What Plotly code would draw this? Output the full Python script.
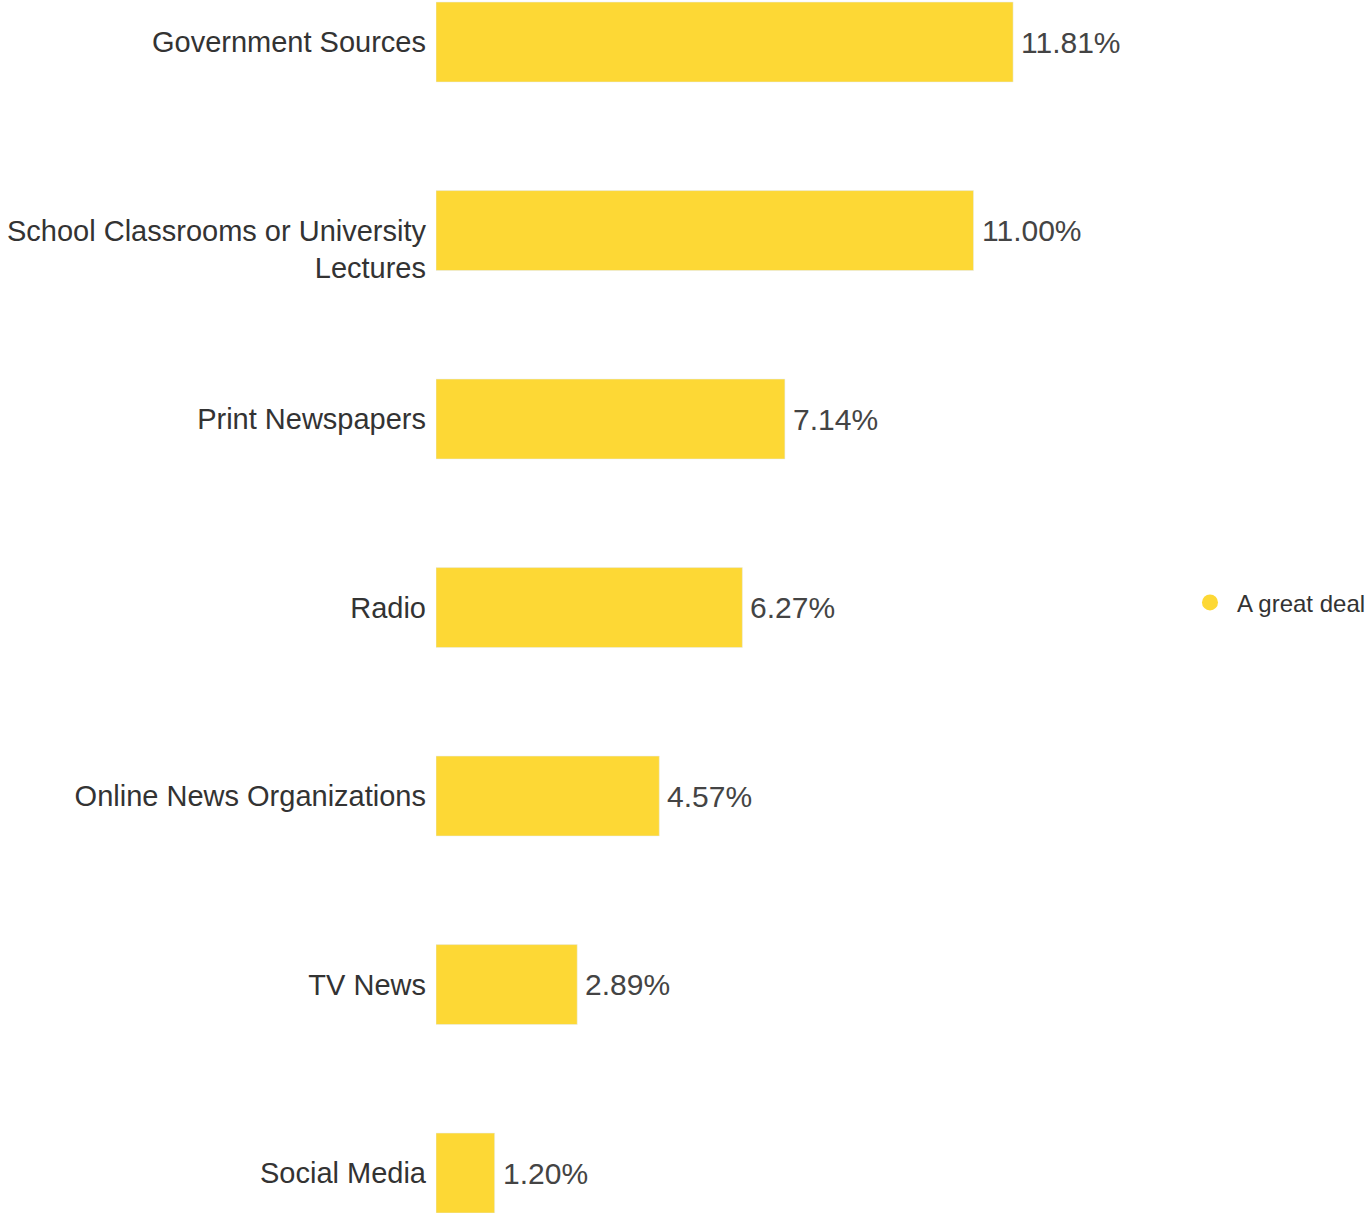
import plotly.graph_objects as go

categories = [
    "Government Sources",
    "<br>School Classrooms or University<br>Lectures",
    "Print Newspapers",
    "Radio",
    "Online News Organizations",
    "TV News",
    "Social Media",
]
values = [11.81, 11.00, 7.14, 6.27, 4.57, 2.89, 1.20]
value_labels = [f"{v:.2f}%" for v in values]
series_name = "A great deal"
bar_color = "#FDD835"
font_family = "Liberation Sans, Arial, sans-serif"

fig = go.Figure()
fig.add_trace(go.Bar(
    y=categories,
    x=values,
    orientation="h",
    marker=dict(color=bar_color),
    width=0.424,
    showlegend=False,
    hoverinfo="x+y",
))
# value labels to the right of each bar
for cat, v, lbl in zip(categories, values, value_labels):
    fig.add_annotation(
        x=v, y=cat, xref="x", yref="y",
        text=lbl, showarrow=False,
        xanchor="left", yanchor="middle", xshift=6,
        font=dict(family=font_family, size=30, color="#444444"),
    )
# legend entry drawn with a round marker
fig.add_trace(go.Scatter(
    x=[None], y=[None],
    mode="markers",
    marker=dict(color=bar_color, size=20, symbol="circle"),
    name=series_name,
    showlegend=True,
))

fig.update_layout(
    width=1367,
    height=1213,
    margin=dict(l=436, r=177, t=0, b=0, autoexpand=False),
    paper_bgcolor="white",
    plot_bgcolor="white",
    font=dict(family=font_family, size=29, color="#333333"),
    xaxis=dict(range=[0, 15.43], visible=False, showgrid=False, zeroline=False),
    yaxis=dict(
        categoryorder="array",
        categoryarray=categories,
        autorange=False,
        range=[6.212, -0.223],
        showgrid=False,
        zeroline=False,
        showline=False,
        ticks="",
        ticklabelstandoff=9,
        tickfont=dict(size=29, color="#333333"),
    ),
    legend=dict(
        x=0.9907, xanchor="left",
        y=0.503, yanchor="middle",
        itemwidth=44,
        font=dict(size=24, color="#333333"),
        bgcolor="rgba(0,0,0,0)",
    ),
)

fig.write_html("out.html")
